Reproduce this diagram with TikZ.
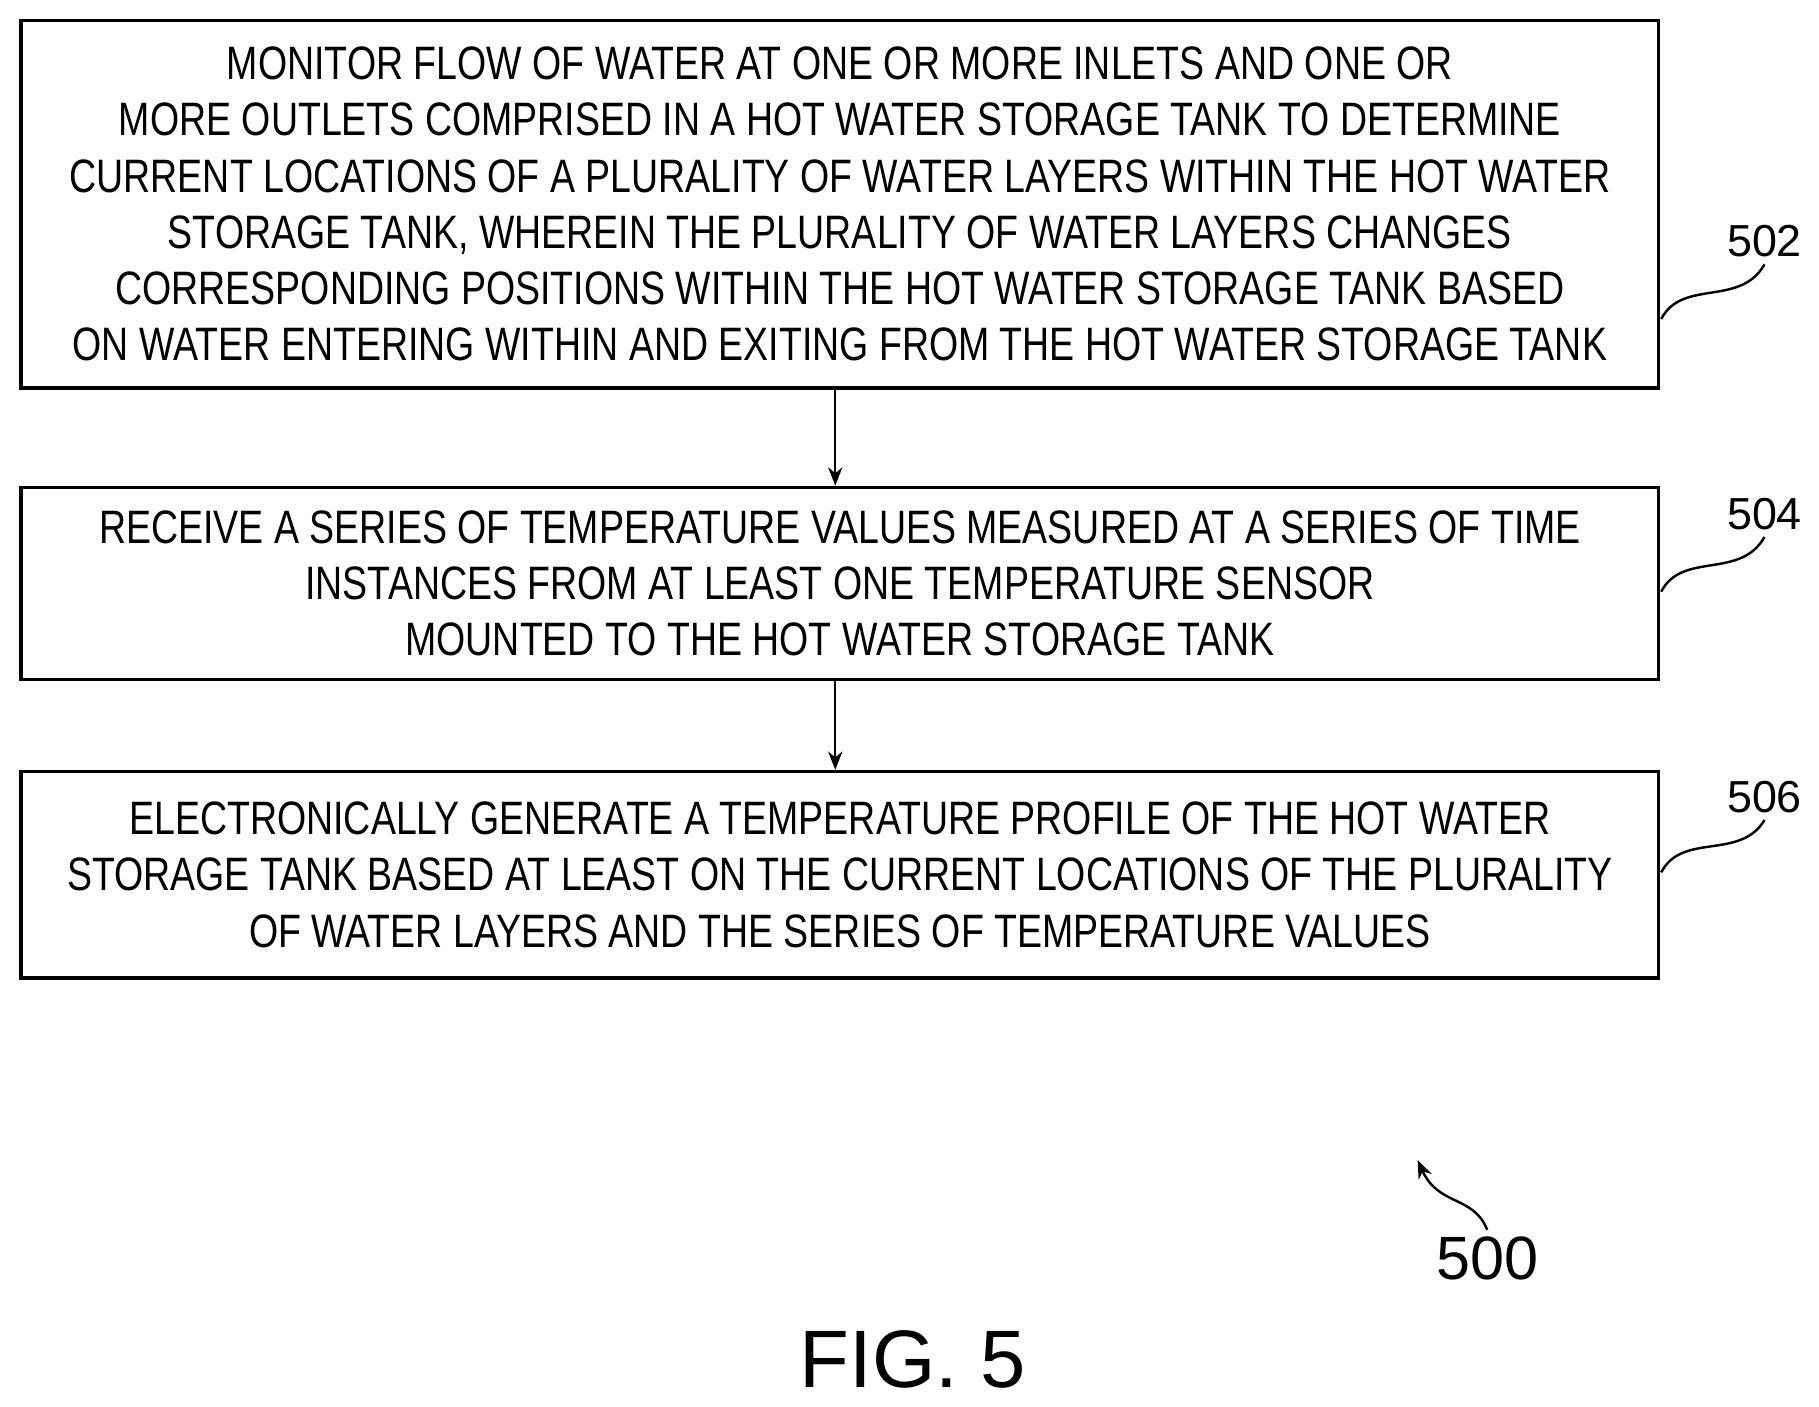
\documentclass[tikz,border=0pt]{standalone}
\usepackage{fontspec}
\setmainfont{Liberation Sans}
\newfontfamily\boxfont[FakeStretch=0.8]{Liberation Sans}
\usetikzlibrary{positioning,arrows.meta}

\tikzset{
    stepbox/.style={draw, line width=1.6pt, minimum width=28.24cm, align=center,
        font=\boxfont\fontsize{23}{27.6}\selectfont, inner sep=0pt},
    flow/.style={-{Stealth[length=9pt,width=7pt]}, line width=1.2pt},
    refnum/.style={font=\fontsize{22}{24}\selectfont},
    lead/.style={line width=1.2pt}
}

\begin{document}
\begin{tikzpicture}[x=0.02cm,y=-0.02cm]
    \useasboundingbox (0,0) rectangle (1568,1212);

    \node[stepbox, minimum height=6.34cm] (s502) at (724,176)
    {MONITOR FLOW OF WATER AT ONE OR MORE INLETS AND ONE OR\\
    MORE OUTLETS COMPRISED IN A HOT WATER STORAGE TANK TO DETERMINE\\
    CURRENT LOCATIONS OF A PLURALITY OF WATER LAYERS WITHIN THE HOT WATER\\
    STORAGE TANK, WHEREIN THE PLURALITY OF WATER LAYERS CHANGES\\
    CORRESPONDING POSITIONS WITHIN THE HOT WATER STORAGE TANK BASED\\
    ON WATER ENTERING WITHIN AND EXITING FROM THE HOT WATER STORAGE TANK};

    \node[stepbox, minimum height=3.32cm] (s504) at (724,503)
    {RECEIVE A SERIES OF TEMPERATURE VALUES MEASURED AT A SERIES OF TIME\\
    INSTANCES FROM AT LEAST ONE TEMPERATURE SENSOR\\
    MOUNTED TO THE HOT WATER STORAGE TANK};

    \node[stepbox, minimum height=3.56cm] (s506) at (724,754)
    {ELECTRONICALLY GENERATE A TEMPERATURE PROFILE OF THE HOT WATER\\
    STORAGE TANK BASED AT LEAST ON THE CURRENT LOCATIONS OF THE PLURALITY\\
    OF WATER LAYERS AND THE SERIES OF TEMPERATURE VALUES};

    \draw[flow] (s502.south -| 720,0) -- (s504.north -| 720,0);
    \draw[flow] (s504.south -| 720,0) -- (s506.north -| 720,0);

    % reference numerals
    \node[refnum] (n502) at (1521,208) {502};
    \node[refnum] (n504) at (1521,443) {504};
    \node[refnum] (n506) at (1521,687) {506};
    \node[refnum, font=\fontsize{30}{32}\selectfont] (n500) at (1282,1085) {500};

    \coordinate (c502) at (1432,275);
    \coordinate (c504) at (1432,510);
    \coordinate (c506) at (1432,752);
    \draw[lead] (c502) .. controls (1450,240) and (1500,265) .. (n502.south);
    \draw[lead] (c504) .. controls (1450,475) and (1500,500) .. (n504.south);
    \draw[lead] (c506) .. controls (1450,717) and (1500,742) .. (n506.south);
    \draw[flow] (n500.north) .. controls (1270,1030) and (1240,1040) .. (1222,1000);

    \node[font=\fontsize{40}{44}\selectfont] (fig) at (787,1172) {FIG. 5};
\end{tikzpicture}
\end{document}
